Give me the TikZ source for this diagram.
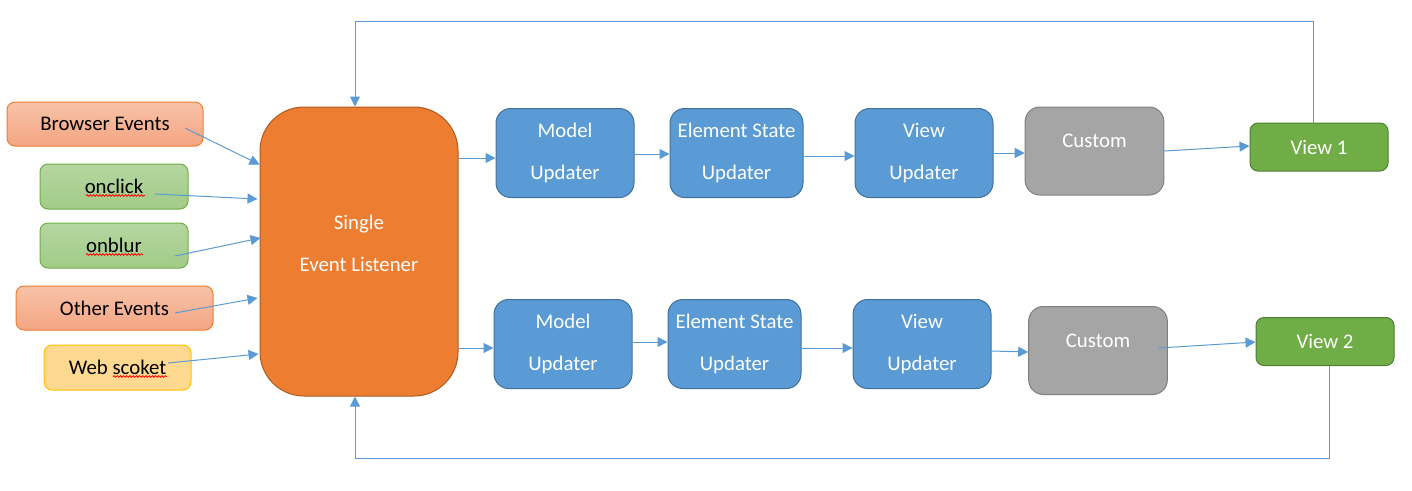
\documentclass[tikz,border=0pt]{standalone}
\usepackage{fontspec}
\setmainfont{Carlito}
\usetikzlibrary{arrows.meta}
\usetikzlibrary{positioning}
\usetikzlibrary{decorations.pathmorphing}
\definecolor{evtline}{HTML}{ED7D31}
\definecolor{evttop}{HTML}{F8C3A8}
\definecolor{evtbot}{HTML}{F4A582}
\definecolor{hookline}{HTML}{70AD47}
\definecolor{hooktop}{HTML}{B5D6A1}
\definecolor{hookbot}{HTML}{A2CB87}
\definecolor{sockline}{HTML}{FFC000}
\definecolor{sockfill}{HTML}{FFD98F}
\definecolor{selline}{HTML}{AE5A21}
\definecolor{selfill}{HTML}{ED7D31}
\definecolor{updline}{HTML}{41719C}
\definecolor{updfill}{HTML}{5B9BD5}
\definecolor{custline}{HTML}{7F7F7F}
\definecolor{custfill}{HTML}{A5A5A5}
\definecolor{viewline}{HTML}{507E32}
\definecolor{viewfill}{HTML}{70AD47}
\definecolor{linkblue}{HTML}{5B9BD5}

\begin{document}
\begin{tikzpicture}[x=0.75pt, y=-0.75pt, >={Triangle[length=7.5pt, width=7.5pt]}]
  \tikzset{
    box/.style={draw, line width=0.75pt, rounded corners=6pt, inner sep=0pt, align=center, font=\fontsize{15.6}{32}\selectfont},
    evt/.style={box, draw=evtline, top color=evttop, bottom color=evtbot, minimum height=33pt},
    hook/.style={box, draw=hookline, top color=hooktop, bottom color=hookbot, minimum width=111pt, minimum height=33.75pt},
    sock/.style={box, draw=sockline, fill=sockfill, minimum width=110.25pt, minimum height=33.75pt},
    listener/.style={box, draw=selline, fill=selfill, rounded corners=33pt, minimum width=148.5pt, minimum height=216.75pt},
    updater/.style={box, draw=updline, fill=updfill, text=white, rounded corners=11pt, minimum height=66.75pt},
    custom/.style={box, draw=custline, fill=custfill, text=white, rounded corners=11pt, minimum width=104pt, minimum height=66pt},
    view/.style={box, draw=viewline, fill=viewfill, text=white, minimum width=103.5pt, minimum height=36pt},
    link/.style={->, draw=linkblue, line width=0.75pt},
    squig/.style={draw=red, line width=0.6pt, decorate, decoration={snake, amplitude=0.6pt, segment length=2.4pt}}
  }
  \useasboundingbox (0,0) rectangle (1412,490);

  % event sources
  \node[evt, minimum width=147pt]    (be) at (105,124)   {Browser Events};
  \node[hook]                        (oc) at (114,186.5) {onclick};
  \node[hook]                        (ob) at (114,245.5) {onblur};
  \node[evt, minimum width=147.75pt] (oe) at (114.5,308) {Other Events};
  \node[sock]                        (ws) at (117.5,367.5) {Web scoket};

  % spell-check marks
  \draw[squig] ([shift={(-28,9)}]oc.center) -- ([shift={(31,9)}]oc.center);
  \draw[squig] ([shift={(-28,9)}]ob.center) -- ([shift={(29,9)}]ob.center);
  \draw[squig] ([shift={(-4.5,9)}]ws.center) -- ([shift={(49.5,9)}]ws.center);

  \node[listener, label={[text=white, align=center, yshift=6pt, font=\fontsize{15.6}{32}\selectfont]center:Single\\Event Listener}] (sel) at (359,251.5) {};

  % upper chain
  \node[updater, minimum width=103.5pt] (mu1) at (565,153)   {Model\\Updater};
  \node[updater, minimum width=99.75pt] (es1) at (736.5,153) {Element State\\Updater};
  \node[updater, minimum width=103.5pt] (vu1) at (924,153)   {View\\Updater};
  \node[custom] (c1) at (1094.5,151) {\raisebox{7.5pt}[\height][\depth]{Custom}};
  \node[view]   (v1) at (1319,147)   {View 1};

  % lower chain
  \node[updater, minimum width=103.5pt] (mu2) at (563,344)   {Model\\Updater};
  \node[updater, minimum width=99.75pt] (es2) at (734.5,344) {Element State\\Updater};
  \node[updater, minimum width=103.5pt] (vu2) at (922,344)   {View\\Updater};
  \node[custom] (c2) at (1098,350.5) {\raisebox{7.5pt}[\height][\depth]{Custom}};
  \node[view]   (v2) at (1325,341.5) {View 2};

  % sources into the listener
  \draw[link] ([shift={(80,4)}]be.center)     -- ([shift={(0,-87)}]sel.west);
  \draw[link] ([shift={(41,7.5)}]oc.center)   -- ([shift={(-2,-52.5)}]sel.west);
  \draw[link] ([shift={(61,10.5)}]ob.center)  -- ([shift={(1,-13.5)}]sel.west);
  \draw[link] ([shift={(60.5,5)}]oe.center)   -- ([shift={(-2,46.5)}]sel.west);
  \draw[link] ([shift={(50.5,-4.5)}]ws.center) -- ([shift={(-1,102.5)}]sel.west);

  % upper chain links
  \draw[link] ([shift={(0,-93.5)}]sel.east) -- ([shift={(0,5)}]mu1.west);
  \draw[link] ([shift={(0,1)}]mu1.east) -- ([shift={(0,1)}]es1.west);
  \draw[link] ([shift={(0,3)}]es1.east) -- ([shift={(0,3)}]vu1.west);
  \draw[link] (vu1.east) -- (vu1.east -| c1.west);
  \draw[link] (c1.east) -- ([shift={(0,-1)}]v1.west);

  % lower chain links
  \draw[link] ([shift={(0,96.5)}]sel.east) -- ([shift={(0,4)}]mu2.west);
  \draw[link] ([shift={(0,-2)}]mu2.east) -- ([shift={(0,-2)}]es2.west);
  \draw[link] ([shift={(0,4)}]es2.east) -- ([shift={(0,4)}]vu2.west);
  \draw[link] ([shift={(0,7)}]vu2.east) -- ([shift={(0,1.5)}]c2.west);
  \draw[link] ([shift={(-9,-2.5)}]c2.east) -- ([shift={(0,0.5)}]v2.west);

  % feedback loops
  \draw[link] ([shift={(-6,0)}]v1.north) -- ++(0,-101) -| ([shift={(-4,0)}]sel.north);
  \draw[link] ([shift={(4,0)}]v2.south) -- ++(0,92) -| ([shift={(-4,0)}]sel.south);
\end{tikzpicture}
\end{document}
